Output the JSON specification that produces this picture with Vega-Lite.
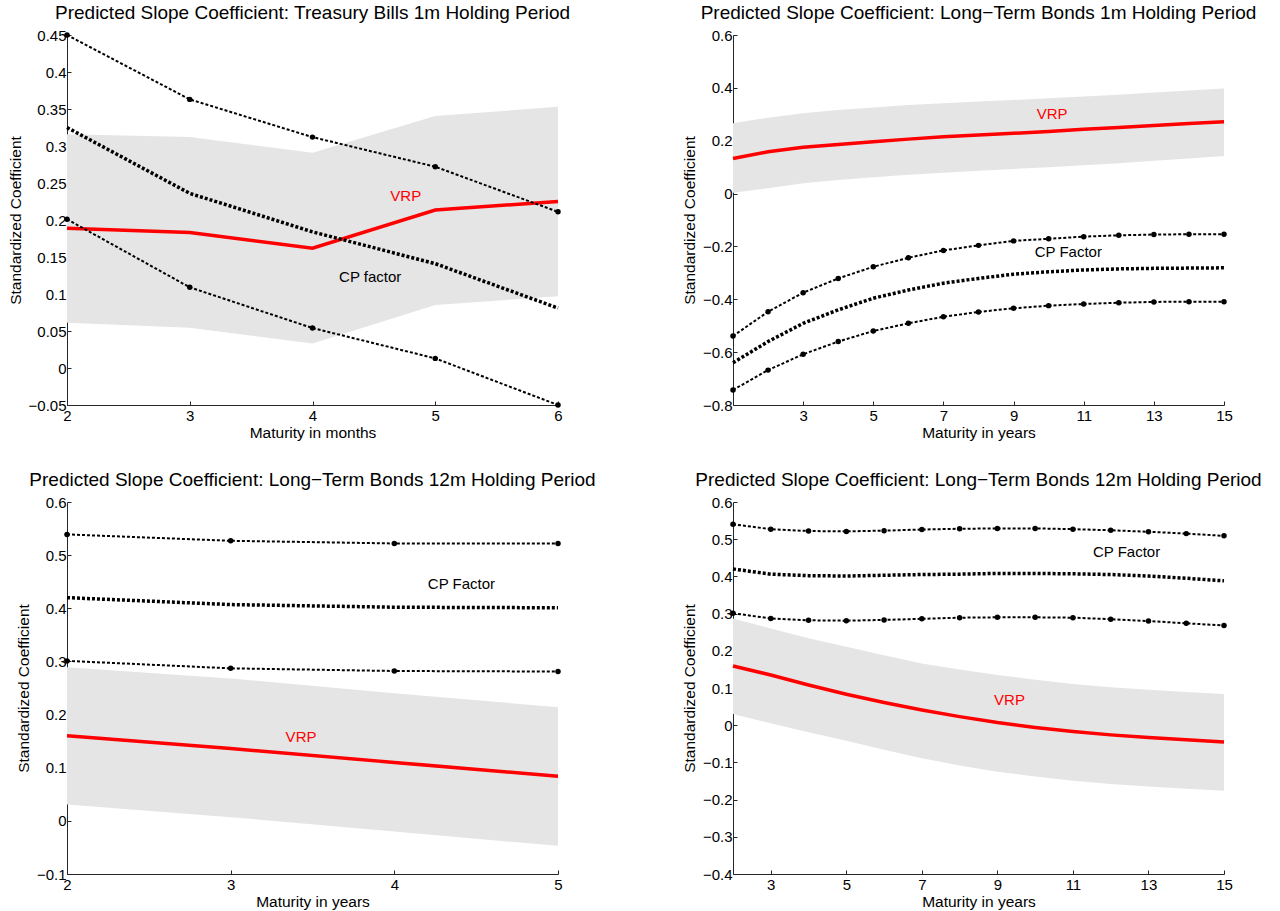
{
 "$schema": "https://vega.github.io/schema/vega-lite/v6.json",
 "padding": {"left": 8, "top": 4, "right": 5, "bottom": 0},
 "background": "white",
 "config": {
  "view": {"stroke": null},
  "font": "Liberation Sans",
  "axis": {"grid": false, "domainColor": "#262626", "tickColor": "#262626", "labelColor": "#000000", "titleColor": "#000000", "labelFont": "Liberation Sans", "titleFont": "Liberation Sans", "labelFontSize": 15, "titleFontSize": 15.5, "titleFontWeight": "normal", "tickSize": -4, "domainWidth": 1, "tickWidth": 1, "labelFlush": false, "labelOverlap": false},
  "axisX": {"labelPadding": 7, "titlePadding": 2},
  "axisY": {"labelPadding": 5, "titlePadding": 5},
  "title": {"font": "Liberation Sans", "fontSize": 19, "fontWeight": "normal", "color": "#000000", "frame": "group", "offset": 5},
  "text": {"font": "Liberation Sans", "fontSize": 15}
 },
 "datasets": {
  "p1": [
   {"x": 2, "hi": 0.45, "mid": 0.325, "lo": 0.201, "vrp": 0.189, "bhi": 0.316, "blo": 0.061},
   {"x": 3, "hi": 0.363, "mid": 0.236, "lo": 0.109, "vrp": 0.183, "bhi": 0.312, "blo": 0.0545},
   {"x": 4, "hi": 0.312, "mid": 0.184, "lo": 0.054, "vrp": 0.162, "bhi": 0.291, "blo": 0.033},
   {"x": 5, "hi": 0.272, "mid": 0.141, "lo": 0.013, "vrp": 0.2135, "bhi": 0.3405, "blo": 0.085},
   {"x": 6, "hi": 0.211, "mid": 0.081, "lo": -0.05, "vrp": 0.225, "bhi": 0.353, "blo": 0.097}
  ],
  "p2": [
   {"x": 1, "hi": -0.539, "mid": -0.64, "lo": -0.743, "vrp": 0.133, "bhi": 0.266, "blo": 0.003},
   {"x": 2, "hi": -0.447, "mid": -0.56, "lo": -0.668, "vrp": 0.158, "bhi": 0.287, "blo": 0.02},
   {"x": 3, "hi": -0.375, "mid": -0.491, "lo": -0.608, "vrp": 0.175, "bhi": 0.304, "blo": 0.039},
   {"x": 4, "hi": -0.321, "mid": -0.44, "lo": -0.56, "vrp": 0.186, "bhi": 0.316, "blo": 0.051},
   {"x": 5, "hi": -0.277, "mid": -0.396, "lo": -0.52, "vrp": 0.196, "bhi": 0.326, "blo": 0.062},
   {"x": 6, "hi": -0.243, "mid": -0.365, "lo": -0.491, "vrp": 0.206, "bhi": 0.335, "blo": 0.071},
   {"x": 7, "hi": -0.215, "mid": -0.339, "lo": -0.466, "vrp": 0.215, "bhi": 0.342, "blo": 0.079},
   {"x": 8, "hi": -0.196, "mid": -0.321, "lo": -0.448, "vrp": 0.222, "bhi": 0.348, "blo": 0.086},
   {"x": 9, "hi": -0.179, "mid": -0.305, "lo": -0.434, "vrp": 0.228, "bhi": 0.354, "blo": 0.093},
   {"x": 10, "hi": -0.171, "mid": -0.296, "lo": -0.424, "vrp": 0.235, "bhi": 0.361, "blo": 0.1},
   {"x": 11, "hi": -0.163, "mid": -0.289, "lo": -0.418, "vrp": 0.243, "bhi": 0.367, "blo": 0.107},
   {"x": 12, "hi": -0.158, "mid": -0.285, "lo": -0.413, "vrp": 0.25, "bhi": 0.374, "blo": 0.115},
   {"x": 13, "hi": -0.155, "mid": -0.283, "lo": -0.41, "vrp": 0.258, "bhi": 0.382, "blo": 0.124},
   {"x": 14, "hi": -0.154, "mid": -0.282, "lo": -0.409, "vrp": 0.265, "bhi": 0.39, "blo": 0.133},
   {"x": 15, "hi": -0.154, "mid": -0.281, "lo": -0.409, "vrp": 0.272, "bhi": 0.398, "blo": 0.142}
  ],
  "p3": [
   {"x": 2, "hi": 0.539, "mid": 0.42, "lo": 0.301, "vrp": 0.16, "bhi": 0.289, "blo": 0.031},
   {"x": 3, "hi": 0.527, "mid": 0.407, "lo": 0.287, "vrp": 0.136, "bhi": 0.268, "blo": 0.007},
   {"x": 4, "hi": 0.522, "mid": 0.402, "lo": 0.282, "vrp": 0.11, "bhi": 0.24, "blo": -0.02},
   {"x": 5, "hi": 0.522, "mid": 0.401, "lo": 0.281, "vrp": 0.084, "bhi": 0.214, "blo": -0.047}
  ],
  "p4": [
   {"x": 2, "hi": 0.54, "mid": 0.42, "lo": 0.301, "vrp": 0.159, "bhi": 0.287, "blo": 0.03},
   {"x": 3, "hi": 0.527, "mid": 0.406, "lo": 0.287, "vrp": 0.135, "bhi": 0.26, "blo": 0.005},
   {"x": 4, "hi": 0.522, "mid": 0.402, "lo": 0.282, "vrp": 0.108, "bhi": 0.234, "blo": -0.019},
   {"x": 5, "hi": 0.521, "mid": 0.401, "lo": 0.281, "vrp": 0.083, "bhi": 0.211, "blo": -0.042},
   {"x": 6, "hi": 0.523, "mid": 0.403, "lo": 0.283, "vrp": 0.061, "bhi": 0.188, "blo": -0.066},
   {"x": 7, "hi": 0.526, "mid": 0.405, "lo": 0.286, "vrp": 0.041, "bhi": 0.166, "blo": -0.089},
   {"x": 8, "hi": 0.528, "mid": 0.406, "lo": 0.289, "vrp": 0.023, "bhi": 0.15, "blo": -0.108},
   {"x": 9, "hi": 0.529, "mid": 0.408, "lo": 0.29, "vrp": 0.007, "bhi": 0.135, "blo": -0.125},
   {"x": 10, "hi": 0.529, "mid": 0.408, "lo": 0.29, "vrp": -0.006, "bhi": 0.122, "blo": -0.138},
   {"x": 11, "hi": 0.527, "mid": 0.407, "lo": 0.289, "vrp": -0.017, "bhi": 0.111, "blo": -0.149},
   {"x": 12, "hi": 0.524, "mid": 0.405, "lo": 0.285, "vrp": -0.026, "bhi": 0.102, "blo": -0.158},
   {"x": 13, "hi": 0.52, "mid": 0.401, "lo": 0.28, "vrp": -0.033, "bhi": 0.095, "blo": -0.165},
   {"x": 14, "hi": 0.515, "mid": 0.395, "lo": 0.274, "vrp": -0.039, "bhi": 0.089, "blo": -0.171},
   {"x": 15, "hi": 0.509, "mid": 0.388, "lo": 0.268, "vrp": -0.045, "bhi": 0.084, "blo": -0.176}
  ],
  "a1": [{"x": 4.76, "y": 0.232, "label": "VRP"}, {"x": 4.47, "y": 0.123, "label": "CP factor"}],
  "a2": [{"x": 10.1, "y": 0.301, "label": "VRP"}, {"x": 10.56, "y": -0.222, "label": "CP Factor"}],
  "a3": [{"x": 4.41, "y": 0.446, "label": "CP Factor"}, {"x": 3.43, "y": 0.158, "label": "VRP"}],
  "a4": [{"x": 12.42, "y": 0.466, "label": "CP Factor"}, {"x": 9.32, "y": 0.068, "label": "VRP"}]
 },
 "columns": 2,
 "spacing": {"row": 97, "column": 175},
 "bounds": "flush",
 "concat": [
  {
   "width": 491, "height": 370,
   "title": "Predicted Slope Coefficient: Treasury Bills 1m Holding Period",
   "data": {"name": "p1"},
   "encoding": {"x": {"field": "x", "type": "quantitative", "scale": {"domain": [2, 6], "nice": false, "zero": false}, "axis": {"values": [2, 3, 4, 5, 6], "tickCount": 30, "format": "d", "title": "Maturity in months", "labelOverlap": false, "labelFlush": false}}},
   "layer": [
    {"mark": {"type": "area", "color": "#e5e5e5"}, "encoding": {"y": {"field": "bhi", "type": "quantitative", "scale": {"domain": [-0.05, 0.45], "nice": false, "zero": false}, "axis": {"values": [-0.05, 0, 0.05, 0.1, 0.15, 0.2, 0.25, 0.3, 0.35, 0.4, 0.45], "tickCount": 30, "format": ".2~f", "title": "Standardized Coefficient", "labelOverlap": false, "labelFlush": false}}, "y2": {"field": "blo"}}},
    {"mark": {"type": "line", "color": "#ff0000", "strokeWidth": 3.5}, "encoding": {"y": {"field": "vrp", "type": "quantitative"}}},
    {"mark": {"type": "line", "color": "#000000", "strokeWidth": 2, "strokeDash": [3, 2]}, "encoding": {"y": {"field": "hi", "type": "quantitative"}}},
    {"mark": {"type": "line", "color": "#000000", "strokeWidth": 2, "strokeDash": [3, 2]}, "encoding": {"y": {"field": "lo", "type": "quantitative"}}},
    {"mark": {"type": "line", "color": "#000000", "strokeWidth": 3.5, "strokeDash": [3, 2]}, "encoding": {"y": {"field": "mid", "type": "quantitative"}}},
    {"mark": {"type": "point", "filled": true, "color": "#000000", "size": 30, "opacity": 1}, "encoding": {"y": {"field": "hi", "type": "quantitative"}}},
    {"mark": {"type": "point", "filled": true, "color": "#000000", "size": 30, "opacity": 1}, "encoding": {"y": {"field": "lo", "type": "quantitative"}}},
    {"data": {"name": "a1"}, "mark": {"type": "text", "align": "center", "baseline": "middle"}, "encoding": {"x": {"field": "x", "type": "quantitative"}, "y": {"field": "y", "type": "quantitative"}, "text": {"field": "label"}, "color": {"field": "label", "type": "nominal", "scale": {"domain": ["VRP", "CP factor", "CP Factor"], "range": ["#ff0000", "#000000", "#000000"]}, "legend": null}}}
   ]
  },
  {
   "width": 491, "height": 370,
   "title": "Predicted Slope Coefficient: Long\u2212Term Bonds 1m Holding Period",
   "data": {"name": "p2"},
   "encoding": {"x": {"field": "x", "type": "quantitative", "scale": {"domain": [1, 15], "nice": false, "zero": false}, "axis": {"values": [3, 5, 7, 9, 11, 13, 15], "tickCount": 30, "format": "d", "title": "Maturity in years", "labelOverlap": false, "labelFlush": false}}},
   "layer": [
    {"mark": {"type": "area", "color": "#e5e5e5"}, "encoding": {"y": {"field": "bhi", "type": "quantitative", "scale": {"domain": [-0.8, 0.6], "nice": false, "zero": false}, "axis": {"values": [-0.8, -0.6, -0.4, -0.2, 0, 0.2, 0.4, 0.6], "tickCount": 30, "format": ".1~f", "title": "Standardized Coefficient", "labelOverlap": false, "labelFlush": false}}, "y2": {"field": "blo"}}},
    {"mark": {"type": "line", "color": "#ff0000", "strokeWidth": 3.5}, "encoding": {"y": {"field": "vrp", "type": "quantitative"}}},
    {"mark": {"type": "line", "color": "#000000", "strokeWidth": 2, "strokeDash": [3, 2]}, "encoding": {"y": {"field": "hi", "type": "quantitative"}}},
    {"mark": {"type": "line", "color": "#000000", "strokeWidth": 2, "strokeDash": [3, 2]}, "encoding": {"y": {"field": "lo", "type": "quantitative"}}},
    {"mark": {"type": "line", "color": "#000000", "strokeWidth": 3.5, "strokeDash": [3, 2]}, "encoding": {"y": {"field": "mid", "type": "quantitative"}}},
    {"mark": {"type": "point", "filled": true, "color": "#000000", "size": 30, "opacity": 1}, "encoding": {"y": {"field": "hi", "type": "quantitative"}}},
    {"mark": {"type": "point", "filled": true, "color": "#000000", "size": 30, "opacity": 1}, "encoding": {"y": {"field": "lo", "type": "quantitative"}}},
    {"data": {"name": "a2"}, "mark": {"type": "text", "align": "center", "baseline": "middle"}, "encoding": {"x": {"field": "x", "type": "quantitative"}, "y": {"field": "y", "type": "quantitative"}, "text": {"field": "label"}, "color": {"field": "label", "type": "nominal", "scale": {"domain": ["VRP", "CP factor", "CP Factor"], "range": ["#ff0000", "#000000", "#000000"]}, "legend": null}}}
   ]
  },
  {
   "width": 491, "height": 372,
   "title": "Predicted Slope Coefficient: Long\u2212Term Bonds 12m Holding Period",
   "data": {"name": "p3"},
   "encoding": {"x": {"field": "x", "type": "quantitative", "scale": {"domain": [2, 5], "nice": false, "zero": false}, "axis": {"values": [2, 3, 4, 5], "tickCount": 30, "format": "d", "title": "Maturity in years", "labelOverlap": false, "labelFlush": false}}},
   "layer": [
    {"mark": {"type": "area", "color": "#e5e5e5"}, "encoding": {"y": {"field": "bhi", "type": "quantitative", "scale": {"domain": [-0.1, 0.6], "nice": false, "zero": false}, "axis": {"values": [-0.1, 0, 0.1, 0.2, 0.3, 0.4, 0.5, 0.6], "tickCount": 30, "format": ".1~f", "title": "Standardized Coefficient", "labelOverlap": false, "labelFlush": false}}, "y2": {"field": "blo"}}},
    {"mark": {"type": "line", "color": "#ff0000", "strokeWidth": 3.5}, "encoding": {"y": {"field": "vrp", "type": "quantitative"}}},
    {"mark": {"type": "line", "color": "#000000", "strokeWidth": 2, "strokeDash": [3, 2]}, "encoding": {"y": {"field": "hi", "type": "quantitative"}}},
    {"mark": {"type": "line", "color": "#000000", "strokeWidth": 2, "strokeDash": [3, 2]}, "encoding": {"y": {"field": "lo", "type": "quantitative"}}},
    {"mark": {"type": "line", "color": "#000000", "strokeWidth": 3.5, "strokeDash": [3, 2]}, "encoding": {"y": {"field": "mid", "type": "quantitative"}}},
    {"mark": {"type": "point", "filled": true, "color": "#000000", "size": 30, "opacity": 1}, "encoding": {"y": {"field": "hi", "type": "quantitative"}}},
    {"mark": {"type": "point", "filled": true, "color": "#000000", "size": 30, "opacity": 1}, "encoding": {"y": {"field": "lo", "type": "quantitative"}}},
    {"data": {"name": "a3"}, "mark": {"type": "text", "align": "center", "baseline": "middle"}, "encoding": {"x": {"field": "x", "type": "quantitative"}, "y": {"field": "y", "type": "quantitative"}, "text": {"field": "label"}, "color": {"field": "label", "type": "nominal", "scale": {"domain": ["VRP", "CP factor", "CP Factor"], "range": ["#ff0000", "#000000", "#000000"]}, "legend": null}}}
   ]
  },
  {
   "width": 491, "height": 372,
   "title": "Predicted Slope Coefficient: Long\u2212Term Bonds 12m Holding Period",
   "data": {"name": "p4"},
   "encoding": {"x": {"field": "x", "type": "quantitative", "scale": {"domain": [2, 15], "nice": false, "zero": false}, "axis": {"values": [3, 5, 7, 9, 11, 13, 15], "tickCount": 30, "format": "d", "title": "Maturity in years", "labelOverlap": false, "labelFlush": false}}},
   "layer": [
    {"mark": {"type": "area", "color": "#e5e5e5"}, "encoding": {"y": {"field": "bhi", "type": "quantitative", "scale": {"domain": [-0.4, 0.6], "nice": false, "zero": false}, "axis": {"values": [-0.4, -0.3, -0.2, -0.1, 0, 0.1, 0.2, 0.3, 0.4, 0.5, 0.6], "tickCount": 30, "format": ".1~f", "title": "Standardized Coefficient", "labelOverlap": false, "labelFlush": false}}, "y2": {"field": "blo"}}},
    {"mark": {"type": "line", "color": "#ff0000", "strokeWidth": 3.5}, "encoding": {"y": {"field": "vrp", "type": "quantitative"}}},
    {"mark": {"type": "line", "color": "#000000", "strokeWidth": 2, "strokeDash": [3, 2]}, "encoding": {"y": {"field": "hi", "type": "quantitative"}}},
    {"mark": {"type": "line", "color": "#000000", "strokeWidth": 2, "strokeDash": [3, 2]}, "encoding": {"y": {"field": "lo", "type": "quantitative"}}},
    {"mark": {"type": "line", "color": "#000000", "strokeWidth": 3.5, "strokeDash": [3, 2]}, "encoding": {"y": {"field": "mid", "type": "quantitative"}}},
    {"mark": {"type": "point", "filled": true, "color": "#000000", "size": 30, "opacity": 1}, "encoding": {"y": {"field": "hi", "type": "quantitative"}}},
    {"mark": {"type": "point", "filled": true, "color": "#000000", "size": 30, "opacity": 1}, "encoding": {"y": {"field": "lo", "type": "quantitative"}}},
    {"data": {"name": "a4"}, "mark": {"type": "text", "align": "center", "baseline": "middle"}, "encoding": {"x": {"field": "x", "type": "quantitative"}, "y": {"field": "y", "type": "quantitative"}, "text": {"field": "label"}, "color": {"field": "label", "type": "nominal", "scale": {"domain": ["VRP", "CP factor", "CP Factor"], "range": ["#ff0000", "#000000", "#000000"]}, "legend": null}}}
   ]
  }
 ]
}
